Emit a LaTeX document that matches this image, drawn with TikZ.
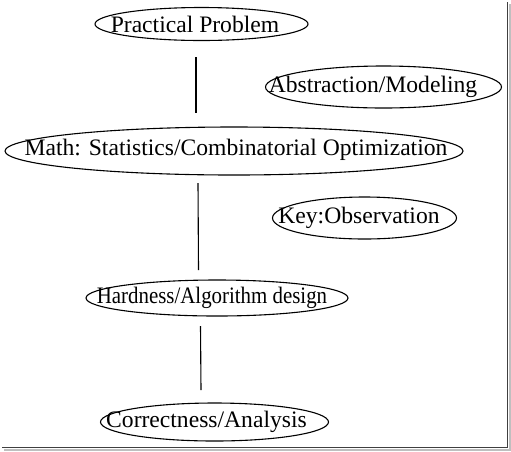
\documentclass[tikz,border=0pt]{standalone}
\usepackage{fontspec}
\setmainfont{Liberation Serif}
\begin{document}
\begin{tikzpicture}[x=1pt,y=-1pt,line width=1.1pt,
  every node/.style={font=\fontsize{23.6}{28}\selectfont,inner sep=0pt}]
\useasboundingbox (0,0) rectangle (511,451);
% frame shadow
\draw[line width=1.2pt,black!75] (507.5,2) -- (507.5,447.5) -- (2,447.5);
\draw[line width=2pt,black!25] (509.8,4) -- (509.8,449.8) -- (4,449.8);
% stages
\node (prob) at (195,24) {Practical Problem};
\node (abst) at (373,87) {Abstraction/Modeling};
\node (math) at (236,150) {Math: Statistics/Combinatorial Optimization};
\node (key) at (359,218) {Key:Observation};
\node (hard) at (212,298) {\scalebox{0.885}[1]{Hardness/Algorithm design}};
\node (corr) at (206.5,422) {Correctness/Analysis};
\draw ([xshift=6.5]prob.center) ellipse[x radius=106.5,y radius=16.5];
\draw ([xshift=10.5]abst.center) ellipse[x radius=118,y radius=21];
\draw ([xshift=-2,yshift=-1]math.center) ellipse[x radius=229,y radius=24];
\draw ([xshift=5.5]key.center) ellipse[x radius=92,y radius=21];
\draw ([xshift=5]hard.center) ellipse[x radius=131,y radius=18];
\draw ([xshift=8]corr.center) ellipse[x radius=114,y radius=19];
% links
\coordinate (l1a) at (196,57);
\coordinate (l1b) at (196,113);
\coordinate (l2a) at (198,183);
\coordinate (l2b) at (198.5,270);
\coordinate (l3a) at (200.5,326);
\coordinate (l3b) at (201,390);
\draw (l1a) -- (l1b);
\draw (l2a) -- (l2b);
\draw (l3a) -- (l3b);
\end{tikzpicture}
\end{document}
